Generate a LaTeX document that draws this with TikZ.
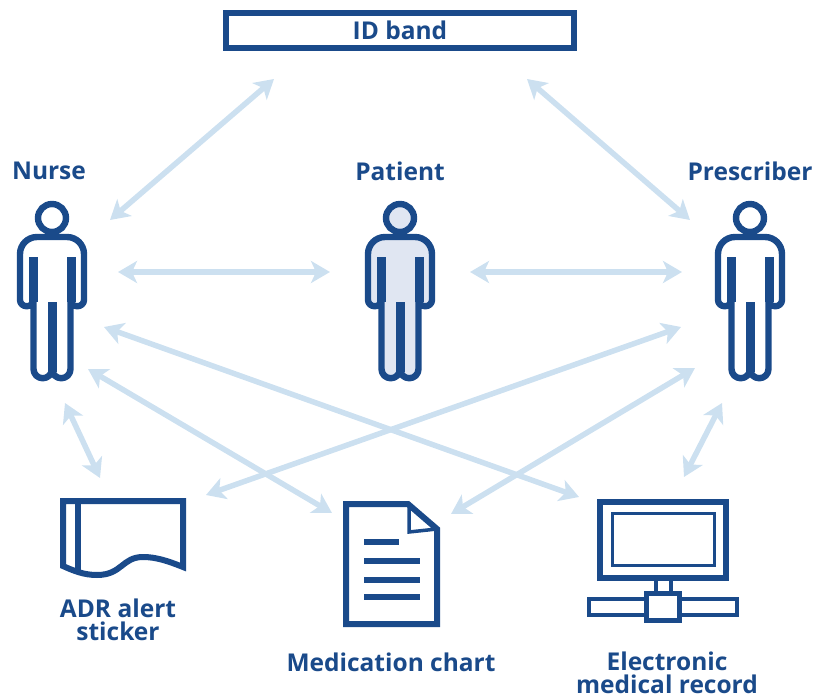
\documentclass[tikz,border=0pt]{standalone}
\usepackage{fontspec}
\setmainfont{Open Sans}
\usetikzlibrary{arrows.meta}
\definecolor{navy}{HTML}{1A4A8A}
\definecolor{pale}{HTML}{CCE0F0}
\definecolor{bodyfill}{HTML}{E0E6F2}
\tikzset{
  link/.style={draw=pale,line width=5.5pt,{Stealth[length=19pt,width=22pt,inset=5pt]}-{Stealth[length=19pt,width=22pt,inset=5pt]}},
  lbl/.style={text=navy,font=\bfseries\fontsize{24.5}{23}\selectfont,align=center,inner sep=0pt},
  icon/.style={draw=navy,line width=6pt,miter limit=10},
  person/.pic={
    \path[icon,fill=#1,line width=6.4pt] (0,218) circle (14);
    \path[icon,fill=#1,line width=6.4pt,line join=round]
      (-18.5,300) -- (-18.5,369)
      .. controls (-18.5,374.1) and (-14.4,378.25) .. (-9.25,378.25)
      .. controls (-4.1,378.25) and (0,374.1) .. (0,369)
      .. controls (0,374.1) and (4.1,378.25) .. (9.25,378.25)
      .. controls (14.4,378.25) and (18.5,374.1) .. (18.5,369)
      -- (18.5,300)
      .. controls (18.5,303.5) and (21.5,306.25) .. (25.25,306.25)
      .. controls (29,306.25) and (32,303.5) .. (32,300)
      -- (32,254)
      .. controls (32,244.6) and (24.4,237) .. (15,237)
      -- (-15,237)
      .. controls (-24.4,237) and (-32,244.6) .. (-32,254)
      -- (-32,300)
      .. controls (-32,303.5) and (-29,306.25) .. (-25.25,306.25)
      .. controls (-21.5,306.25) and (-18.5,303.5) .. (-18.5,300)
      -- cycle;
    \fill[navy] (-23.5,257) rectangle (-14.5,302);
    \fill[navy] (14.5,257) rectangle (23.5,302);
    \fill[navy] (-4.5,302) rectangle (4.5,372);
  }
}
\begin{document}
\begin{tikzpicture}[x=1pt,y=-1pt]
\useasboundingbox (0,0) rectangle (814,698);
% connector ends
\coordinate (a1) at (110,220); \coordinate (a2) at (274,79);
\coordinate (b1) at (527,79);  \coordinate (b2) at (690,220);
\coordinate (c1) at (118,272); \coordinate (c2) at (330,272);
\coordinate (d1) at (470,272); \coordinate (d2) at (682,272);
\coordinate (e1) at (104,327); \coordinate (e2) at (579,497);
\coordinate (f1) at (88,369);  \coordinate (f2) at (332,513);
\coordinate (g1) at (65,403);  \coordinate (g2) at (100,478);
\coordinate (h1) at (206,495); \coordinate (h2) at (681,327);
\coordinate (i1) at (451,514); \coordinate (i2) at (695,368);
\coordinate (j1) at (722,403); \coordinate (j2) at (684,477);
\foreach \s/\t in {a1/a2,b1/b2,c1/c2,d1/d2,e1/e2,f1/f2,g1/g2,h1/h2,i1/i2,j1/j2}
  \draw[link] (\s) -- (\t);
% ID band
\node[draw=navy,line width=6pt,minimum width=348pt,minimum height=35pt,inner sep=0pt,lbl] (idband) at (400,30.5) {ID band};
% people
\pic at (52,0) {person=white};
\pic at (400,0) {person=bodyfill};
\pic at (750,0) {person=white};
\node[lbl] (nurse) at (49,171) {Nurse};
\node[lbl] (patient) at (400,171) {Patient};
\node[lbl] (prescriber) at (750,171) {Prescriber};
% sticker
\path[icon] (63,566) -- (63,501) -- (183,501) -- (183,567)
  .. controls (168,561) and (156,557) .. (143,557)
  .. controls (122,557) and (122,575) .. (97,575)
  .. controls (84,575) and (74,571) .. (63,566) -- cycle;
\draw[navy,line width=6pt] (78,501) -- (78,572);
\node[lbl] (sticker) at (118,620) {ADR alert\\sticker};
% chart
\path[icon] (408,504) -- (346,504) -- (346,624) -- (437,624) -- (437,529) -- cycle;
\draw[navy,line width=3.5pt] (409,504) -- (409,532) -- (437,529);
\foreach \y/\xe in {542/399,561/420,580/420,597/420}
  \draw[navy,line width=5.5pt] (364,\y) -- (\xe,\y);
\node[lbl] (chart) at (391,662) {Medication chart};
% computer
\draw[navy,line width=6.5pt] (600,502) rectangle (726,578);
\draw[navy,line width=3.2pt] (612.5,513.5) rectangle (714.5,565.5);
\draw[navy,line width=4pt] (656,580) -- (656,592) (671,580) -- (671,592);
\draw[navy,line width=4pt] (589,599) rectangle (737,615);
\draw[navy,line width=5.5pt,fill=white] (646.5,593.5) rectangle (679.5,620.5);
\node[lbl] (record) at (667,673) {Electronic\\medical record};
\end{tikzpicture}
\end{document}
